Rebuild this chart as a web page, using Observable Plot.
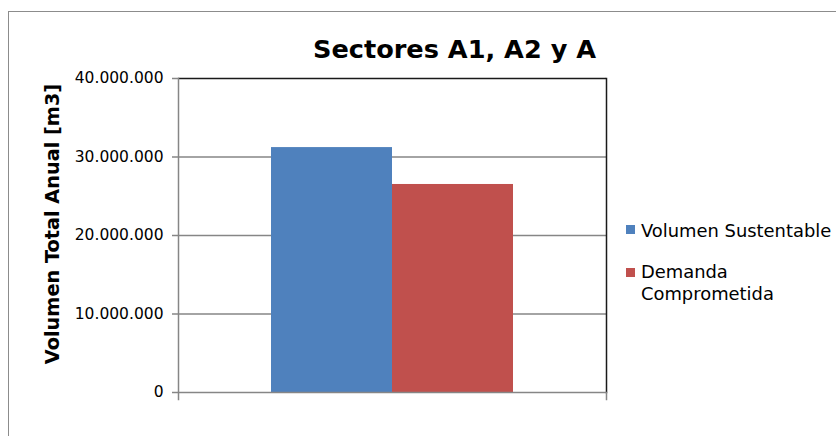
<!DOCTYPE html>
<html><head><meta charset="utf-8">
<script src="https://cdn.jsdelivr.net/npm/d3@7"></script>
<script src="https://cdn.jsdelivr.net/npm/@observablehq/plot@0.6"></script>
<style>
html,body{margin:0;padding:0;background:#fff;overflow:hidden;width:836px;height:436px;}
#wrap{position:relative;width:836px;height:436px;font-family:"DejaVu Sans",Verdana,sans-serif;color:#000;overflow:hidden;}
#border{position:absolute;left:8px;top:11px;width:1000px;height:600px;border-left:1.5px solid #8c8c8c;border-top:1.5px solid #8c8c8c;}
#chart{position:absolute;left:0;top:0;}
#title{position:absolute;left:0;width:909px;top:34px;line-height:30px;text-align:center;font-weight:bold;font-size:25.6px;white-space:nowrap;}
#ylabel{position:absolute;left:53px;top:224px;width:400px;text-align:center;font-weight:bold;font-size:19.3px;line-height:22px;white-space:nowrap;transform:translate(-50%,-50%) rotate(-90deg);}
.leg{position:absolute;left:626px;width:9px;height:9px;}
.legt{position:absolute;left:641px;font-size:17.9px;line-height:22px;white-space:nowrap;}
</style>
</head><body>
<div id="wrap">
  <div id="border"></div>
  <div id="chart"></div>
  <div id="title"></div>
  <div id="ylabel"></div>
  <div id="legend"></div>
</div>
<script>
const chartTitle = "Sectores A1, A2 y A";
const yTitle = "Volumen Total Anual [m3]";
const series = ["Volumen Sustentable", "Demanda Comprometida"];
const legendLines = [["Volumen Sustentable"], ["Demanda", "Comprometida"]];
const values = [31200000, 26500000];
const colors = ["#4F81BD", "#C0504D"];
const yTicks = [0, 10000000, 20000000, 30000000, 40000000];

const data = series.map((s, i) => ({serie: s, value: values[i]}));
const fmt = d3.formatLocale({decimal: ",", thousands: ".", grouping: [3], currency: ["", ""]}).format(",.0f");
const yMax = yTicks[yTicks.length - 1];

const plot = Plot.plot({
  width: 836, height: 436,
  marginLeft: 178, marginRight: 230, marginTop: 78, marginBottom: 44,
  style: {fontFamily: "'DejaVu Sans', Verdana, sans-serif", fontSize: "15.5px", color: "#000", background: "transparent", overflow: "visible"},
  x: {domain: series, paddingInner: 0, paddingOuter: 0.76, axis: null},
  y: {domain: [0, yMax], label: null},
  color: {domain: series, range: colors},
  marks: [
    Plot.ruleY(yTicks.slice(1, -1), {stroke: "#868686", strokeWidth: 1.5}),
    Plot.barY(data, {x: "serie", y: "value", fill: "serie"}),
    Plot.ruleY([yMax], {stroke: "#1a1a1a", strokeWidth: 1.5}),
    Plot.frame({anchor: "right", stroke: "#1a1a1a", strokeWidth: 1.5}),
    Plot.frame({anchor: "right", stroke: "#868686", strokeWidth: 1.5, insetTop: 314, insetBottom: -7}),
    Plot.frame({anchor: "left", stroke: "#868686", strokeWidth: 1.5, insetBottom: -7}),
    Plot.ruleY([0], {stroke: "#868686", strokeWidth: 1.5}),
    Plot.axisY(yTicks, {tickSize: 6, tickPadding: 9, stroke: "#868686", strokeWidth: 1.5, fill: "#000", label: null, tickFormat: fmt})
  ]
});
document.getElementById("chart").appendChild(plot);
document.getElementById("title").textContent = chartTitle;
document.getElementById("ylabel").textContent = yTitle;

const legTops = [225, 268];
const legTextTops = [220, 261];
const legend = document.getElementById("legend");
legendLines.forEach((lines, i) => {
  const sq = document.createElement("div");
  sq.className = "leg";
  sq.style.top = legTops[i] + "px";
  sq.style.background = colors[i];
  legend.appendChild(sq);
  const t = document.createElement("div");
  t.className = "legt";
  t.style.top = legTextTops[i] + "px";
  t.innerHTML = lines.join("<br>");
  legend.appendChild(t);
});
</script>
</body></html>
